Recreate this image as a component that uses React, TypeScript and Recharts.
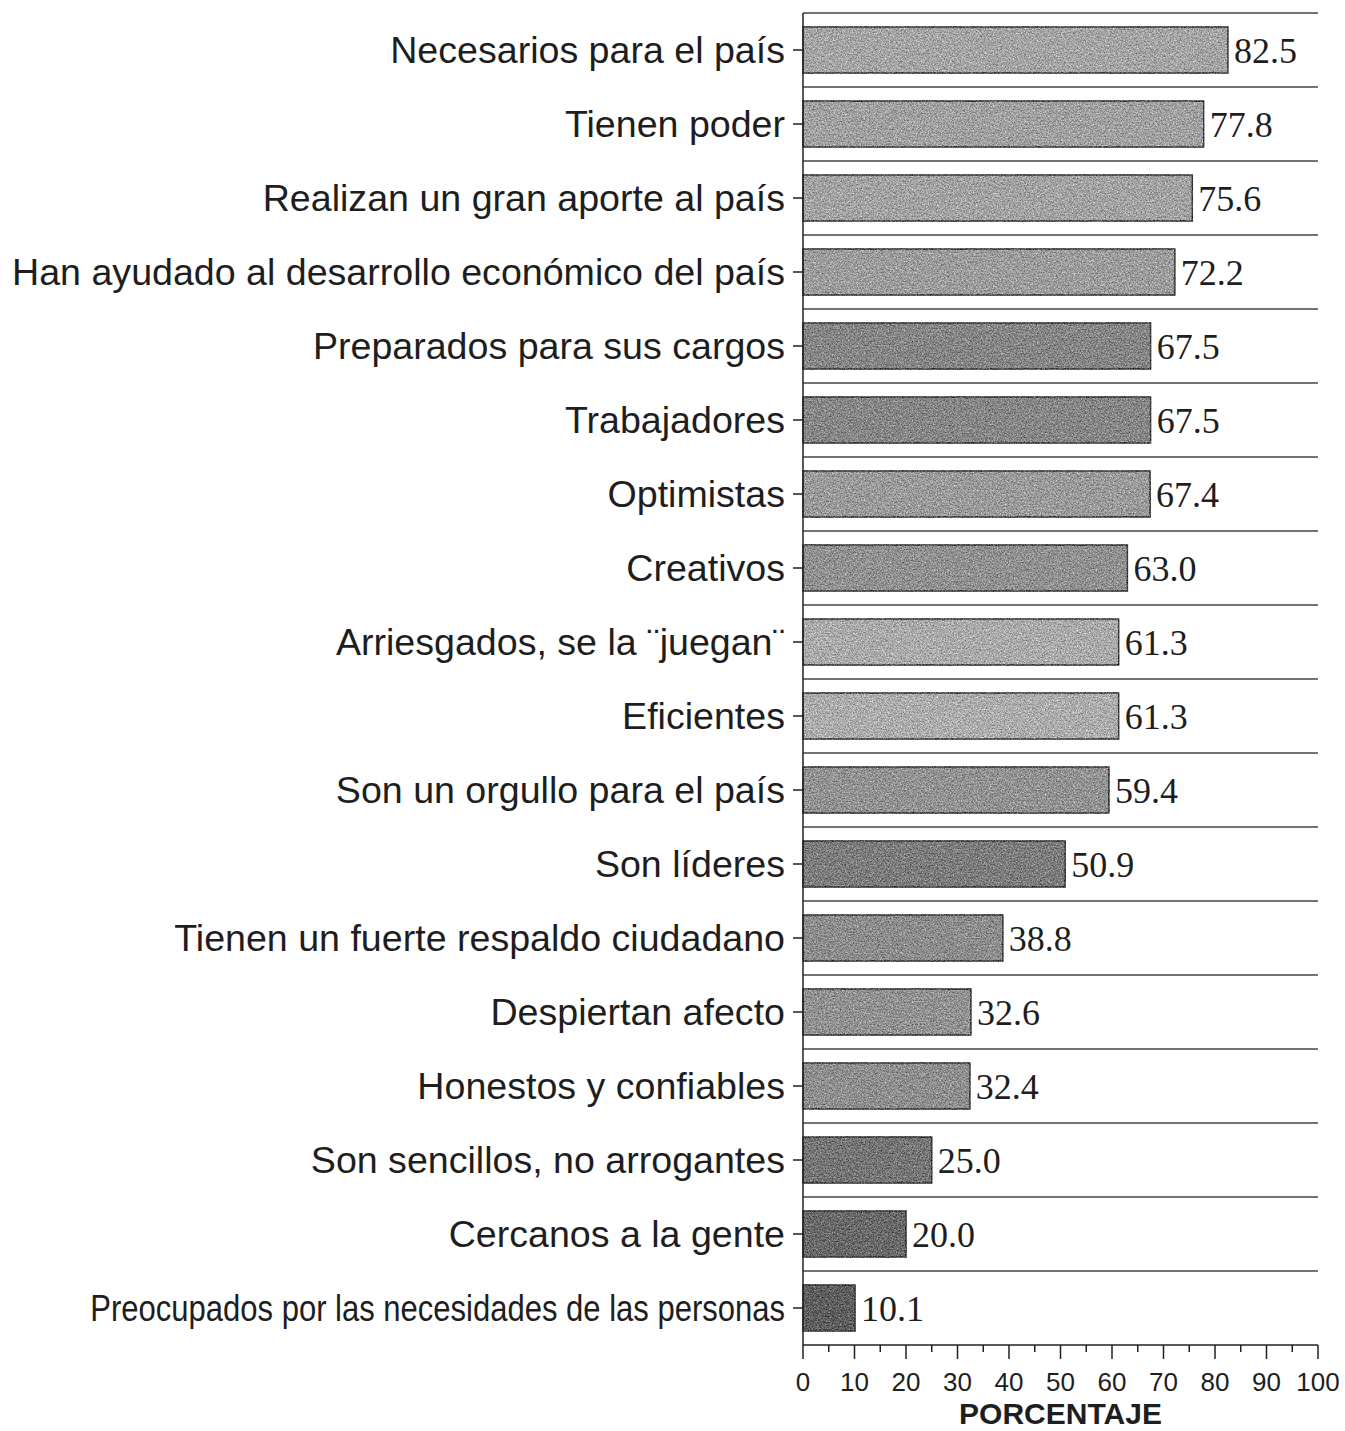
import { Bar, BarChart, CartesianGrid, Cell, LabelList, XAxis, YAxis } from "recharts";

const categories = [
  "Necesarios para el país",
  "Tienen poder",
  "Realizan un gran aporte al país",
  "Han ayudado al desarrollo económico del país",
  "Preparados para sus cargos",
  "Trabajadores",
  "Optimistas",
  "Creativos",
  "Arriesgados, se la ¨juegan¨",
  "Eficientes",
  "Son un orgullo para el país",
  "Son líderes",
  "Tienen un fuerte respaldo ciudadano",
  "Despiertan afecto",
  "Honestos y confiables",
  "Son sencillos, no arrogantes",
  "Cercanos a la gente",
  "Preocupados por las necesidades de las personas",
];

const values = [82.5, 77.8, 75.6, 72.2, 67.5, 67.5, 67.4, 63.0, 61.3, 61.3, 59.4, 50.9, 38.8, 32.6, 32.4, 25.0, 20.0, 10.1];

const xTicks = [0, 5, 10, 15, 20, 25, 30, 35, 40, 45, 50, 55, 60, 65, 70, 75, 80, 85, 90, 95, 100];

// grey tone of each scanned bar, top to bottom
const barFills = [
  "#a4a4a4", "#a0a0a0", "#a2a2a2", "#9c9c9c", "#858585", "#868686", "#9a9a9a", "#909090", "#aaaaaa",
  "#acacac", "#929292", "#7c7c7c", "#8c8c8c", "#919191", "#8e8e8e", "#757575", "#696969", "#5e5e5e",
];

const data = categories.map((name, i) => ({ name, value: values[i] }));

const SANS = "'Liberation Sans', Arial, sans-serif";
const SERIF = "'Liberation Serif', 'Times New Roman', serif";

function CategoryTick({ x, y, payload }: any) {
  const label: string = payload.value;
  if (label.startsWith("Preocupados")) {
    return (
      <text
        transform={`translate(${x} ${y}) scale(0.825 1)`}
        x={0}
        y={0}
        dy="0.35em"
        textAnchor="end"
        fontFamily={SANS}
        fontSize={37.6}
        fill="#1e1e1e"
      >
        {label}
      </text>
    );
  }
  return (
    <text x={x} y={y} dy="0.35em" textAnchor="end" fontFamily={SANS} fontSize={37.6} fill="#1e1e1e">
      {label}
    </text>
  );
}

function PercentTick({ x, y, payload }: any) {
  const major = payload.value % 10 === 0;
  return (
    <g>
      <line x1={x} x2={x} y1={y} y2={y + (major ? 14 : 7)} stroke="#222" strokeWidth={1.5} />
      {major && (
        <text x={x} y={y + 37} dy="0.35em" textAnchor="middle" fontFamily={SANS} fontSize={26} fill="#1e1e1e">
          {payload.value}
        </text>
      )}
    </g>
  );
}

function GrainBar({ x, y, width, height, fill }: any) {
  return (
    <rect
      x={x}
      y={y}
      width={width}
      height={height}
      fill={fill}
      stroke="#3a3a3a"
      strokeWidth={1.5}
      filter="url(#grain)"
    />
  );
}

export default function App() {
  return (
    <div style={{ width: 1345, height: 1431, background: "#fff" }}>
      <style>{"body{margin:0}"}</style>
      <svg width="0" height="0" style={{ position: "absolute" }}>
        <defs>
          <filter id="grain" colorInterpolationFilters="sRGB">
            <feTurbulence type="fractalNoise" baseFrequency="0.75" numOctaves="3" seed="7" result="noise" />
            <feColorMatrix
              in="noise"
              type="matrix"
              values="1 0 0 0 0  1 0 0 0 0  1 0 0 0 0  0 0 0 0 1"
              result="gray"
            />
            <feComposite in="SourceGraphic" in2="gray" operator="arithmetic" k1="0" k2="1" k3="0.8" k4="-0.4" result="mix" />
            <feComposite in="mix" in2="SourceGraphic" operator="in" />
          </filter>
        </defs>
      </svg>
      <BarChart
        width={1345}
        height={1431}
        data={data}
        layout="vertical"
        margin={{ top: 13, right: 27, bottom: 0, left: 0 }}
        barSize={46}
      >
        <CartesianGrid
          vertical={false}
          stroke="#444"
          strokeWidth={1.5}
          horizontalCoordinatesGenerator={({ offset }: any) =>
            categories.map((_, i) => offset.top + (i * offset.height) / categories.length)
          }
        />
        <XAxis
          type="number"
          domain={[0, 100]}
          ticks={xTicks}
          interval={0}
          height={86}
          tickSize={0}
          tickMargin={0}
          tickLine={false}
          axisLine={{ stroke: "#222", strokeWidth: 1.5 }}
          tick={<PercentTick />}
          label={{
            value: "PORCENTAJE",
            position: "insideBottom",
            offset: 7,
            fontFamily: SANS,
            fontSize: 30,
            fontWeight: "bold",
            fill: "#1e1e1e",
          }}
        />
        <YAxis
          type="category"
          dataKey="name"
          width={803}
          interval={0}
          tickSize={10}
          tickMargin={8}
          tickLine={{ stroke: "#222", strokeWidth: 1.5 }}
          axisLine={{ stroke: "#222", strokeWidth: 1.5 }}
          tick={<CategoryTick />}
        />
        <Bar dataKey="value" isAnimationActive={false} shape={<GrainBar />}>
          {data.map((d, i) => (
            <Cell key={d.name} fill={barFills[i]} />
          ))}
          <LabelList
            dataKey="value"
            position="right"
            offset={6}
            formatter={(v: any) => Number(v).toFixed(1)}
            fontFamily={SERIF}
            fontSize={36}
            fill="#1e1e1e"
          />
        </Bar>
      </BarChart>
    </div>
  );
}
